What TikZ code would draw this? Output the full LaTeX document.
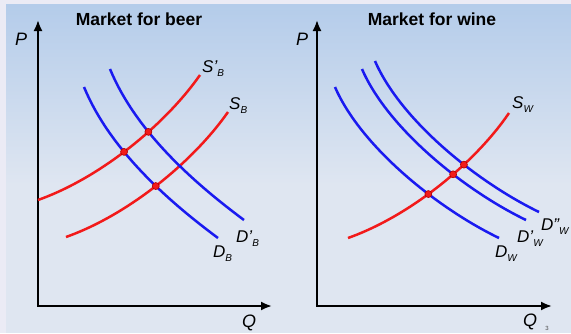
\documentclass[tikz,border=0pt]{standalone}
\usepackage{fontspec}
\setmainfont{Liberation Sans}
\usetikzlibrary{arrows.meta,intersections}

\definecolor{bgtop}{HTML}{B4CCEA}
\definecolor{bgbot}{HTML}{DFE6F1}
\definecolor{bgframe}{HTML}{EBEBF5}
\definecolor{demblue}{HTML}{1A1AF0}
\definecolor{supred}{HTML}{F21A1A}
\definecolor{dotrim}{HTML}{B00000}

% curve label: letter, prime(s), subscript
\newcommand{\crvlbl}[3]{\textit{#1#2\raisebox{-0.55ex}{\fontsize{10}{10}\selectfont #3}}}

\tikzset{
  axisline/.style={line width=2pt, {Latex[length=11pt,width=9pt]}-{Latex[length=11pt,width=9pt]}},
  demand/.style={demblue, line width=2.5pt},
  supply/.style={supred, line width=2.5pt},
  eqdot/.style={circle, fill=supred, draw=dotrim, line width=0.6pt, inner sep=0pt, minimum size=7pt},
  lbl/.style={font=\fontsize{17}{17}\selectfont, inner sep=0pt, anchor=base west},
  axlbl/.style={font=\fontsize{18}{18}\selectfont\itshape, inner sep=0pt, anchor=base west},
  ttl/.style={font=\fontsize{17.5}{19}\selectfont\bfseries, inner sep=0pt},
}

\begin{document}
\begin{tikzpicture}[x=1pt, y=-1pt]
    % Background
    \fill[bgframe] (0,0) rectangle (571,333);
    \shade[top color=bgtop, bottom color=bgbot] (6,4) rectangle (571,185);
    \fill[bgbot] (6,184) rectangle (571,333);
    \useasboundingbox (0,0) rectangle (571,333);

    % Market for beer
    \node[ttl] (tBeer) at (139,19) {Market for beer};
    \coordinate (O1) at (38,306);
    \draw[axisline] (38,20) coordinate (P1) -- (O1) -- (272,306) coordinate (Q1);
    \node[axlbl] (lP1) at (15,45) {P};
    \node[axlbl] (lQ1) at (242,327) {Q};

    % supply curves
    \draw[supply, name path=spB] (38,200) coordinate (spB0) .. controls (100,178) and (165,125) .. (200,75) coordinate (spB1);
    \draw[supply, name path=sB] (66,237) coordinate (sB0) .. controls (128,215) and (193,162) .. (228,112) coordinate (sB1);
    % demand curves
    \draw[demand, name path=dB] (84,87) coordinate (dB0) .. controls (108,145) and (160,195) .. (218,238) coordinate (dB1);
    \draw[demand, name path=dpB] (110,69) coordinate (dpB0) .. controls (134,127) and (186,177) .. (244,220) coordinate (dpB1);

    \node[lbl] (lSpB) at (202,72) {\crvlbl{S}{'}{B}};
    \node[lbl] (lSB) at (229,109) {\crvlbl{S}{}{B}};
    \node[lbl] (lDpB) at (236,242) {\crvlbl{D}{'}{B}};
    \node[lbl] (lDB) at (213,257) {\crvlbl{D}{}{B}};

    % equilibria
    \path[name intersections={of=spB and dB, by=e1}];
    \path[name intersections={of=spB and dpB, by=e2}];
    \path[name intersections={of=sB and dB, by=e3}];
    \node[eqdot] (E1) at (e1) {};
    \node[eqdot] (E2) at (e2) {};
    \node[eqdot] (E3) at (e3) {};

    % Market for wine
    \node[ttl] (tWine) at (432,19) {Market for wine};
    \coordinate (O2) at (317,306);
    \draw[axisline] (317,20) coordinate (P2) -- (O2) -- (552,306) coordinate (Q2);
    \node[axlbl] (lP2) at (296,45) {P};
    \node[axlbl] (lQ2) at (523,326) {Q};
    \node[font=\fontsize{6}{6}\selectfont, text=black!70, inner sep=0pt] (pgno) at (547,328) {3};

    \draw[supply, name path=sW] (348,238) coordinate (sW0) .. controls (410,216) and (475,163) .. (509,113) coordinate (sW1);
    \draw[demand, name path=dW] (335,87) coordinate (dW0) .. controls (360,145) and (435,207) .. (499,238) coordinate (dW1);
    \draw[demand, name path=dpW] (362,69) coordinate (dpW0) .. controls (387,127) and (462,189) .. (526,220) coordinate (dpW1);
    \draw[demand, name path=dppW] (375,61) coordinate (dppW0) .. controls (400,119) and (475,181) .. (539,212) coordinate (dppW1);

    \node[lbl] (lSW) at (512,108) {\crvlbl{S}{}{W}};
    \node[lbl] (lDW) at (495,257) {\crvlbl{D}{}{W}};
    \node[lbl] (lDpW) at (517,242) {\crvlbl{D}{'}{W}};
    \node[lbl] (lDppW) at (541,230) {\crvlbl{D}{"}{W}};

    \path[name intersections={of=sW and dW, by=w1}];
    \path[name intersections={of=sW and dpW, by=w2}];
    \path[name intersections={of=sW and dppW, by=w3}];
    \node[eqdot] (W1) at (w1) {};
    \node[eqdot] (W2) at (w2) {};
    \node[eqdot] (W3) at (w3) {};
\end{tikzpicture}
\end{document}
